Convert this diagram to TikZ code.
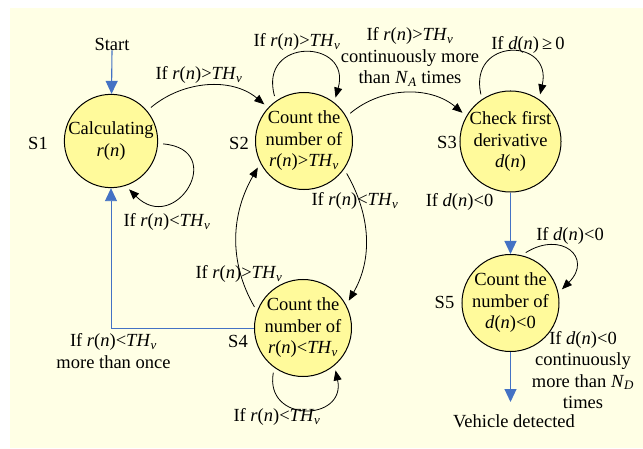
\documentclass[tikz,border=0pt]{standalone}
\usepackage{fontspec}
\setmainfont{Liberation Serif}
\usetikzlibrary{arrows.meta}

\definecolor{bgyellow}{RGB}{255,255,229}
\definecolor{statefill}{RGB}{255,250,155}
\definecolor{flowblue}{RGB}{68,114,196}

% quantities set in italic text
\newcommand\rn{\textit{r}(\textit{n})}
\newcommand\dn{\textit{d}(\textit{n})}
\newcommand\THv{\textit{TH}\textsubscript{\textit{v}}}
\newcommand\Nsub[1]{\textit{N}\textsubscript{\textit{#1}}}

\begin{document}
\begin{tikzpicture}[x=1pt,y=1pt,
  every node/.style={font=\fontsize{18.5}{21.5}\selectfont, align=center, inner sep=0pt},
  state/.style={circle, draw, line width=1pt, fill=statefill, minimum size=91pt},
  arc/.style={-{Triangle[length=10pt,width=8pt]}, line width=0.8pt, shorten >=5pt, shorten <=5pt},
  flow/.style={-{Triangle[length=13pt,width=12pt]}, draw=flowblue, line width=1.1pt},
  back/.style={flow, line width=0.9pt}]
\useasboundingbox (0,0) rectangle (643,448);
\fill[bgyellow] (10,0) rectangle (643,440);

% states
\node[state] (S1) at (111,307) {Calculating\\\rn};
\node[state] (S2) at (304,307) {Count the\\number of\\\rn>\THv};
\node[state, minimum size=96pt] (S3) at (510.5,306.5) {Check first\\derivative\\\dn};
\node[state, minimum size=92pt] (S4) at (303,120) {Count the\\number of\\\rn<\THv};
\node[state, minimum size=93pt] (S5) at (510.5,145) {Count the\\number of\\\dn<0};

% state names
\node (n1) at (38,305) {S1};
\node (n2) at (239,305) {S2};
\node (n3) at (447,306) {S3};
\node (n4) at (238,107) {S4};
\node (n5) at (444.5,146) {S5};

% entry and exit
\node (start) at (112,404) {Start};
\coordinate (vtip) at (510.5,46);
\node (veh) at (514,27) {Vehicle detected};

% transition labels
\node (l12) at (199,373) {If \rn>\THv};
\node (l11) at (167,226) {If \rn<\THv};
\node (l22) at (297,406) {If \rn>\THv};
\node (l23) at (410,391) {If \rn>\THv\\continuously more\\than \Nsub{A} times};
\node (l33) at (528,403) {If \dn\,≥\,0};
\node (l35) at (459.5,246) {If \dn<0};
\node (l24) at (355,247) {If \rn<\THv};
\node (l42) at (239,174) {If \rn>\THv};
\node (l44) at (277,31) {If \rn<\THv};
\node (l41) at (113.5,97) {If \rn<\THv\\more than once};
\node (l55) at (570,212) {If \dn<0};
\node (l5v) at (583,78) {If \dn<0\\continuously\\more than \Nsub{D}\\times};

% blue flow
\draw[flow] (start.south) -- (S1);
\draw[flow] (S3) -- (S5);
\draw[flow] (S5) -- (vtip);
\draw[back] (S4.west) -| (S1.south);

% black transitions
\draw[arc] (S1.40) to[out=40,in=140] (S2.137);
\draw[arc] (S1.-3) .. controls +(70,-6) and +(50,-50) .. (S1.-72);
\draw[arc] (S2.125) .. controls +(-18,64) and +(18,64) .. (S2.52);
\draw[arc] (S2.30) to[out=40,in=140] (S3.150);
\draw[arc] (S3.124) .. controls +(-14,62) and +(14,62) .. (S3.56);
\draw[arc] (S2.-35) to[out=-60,in=60] (S4.28);
\draw[arc] (S4.160) to[out=120,in=-120] (S2.207);
\draw[arc] (S4.234) .. controls +(-10,-56) and +(12,-56) .. (S4.-50);
\draw[arc] (S5.77) .. controls +(40,25) and +(35,35) .. (S5.12);
\end{tikzpicture}
\end{document}
